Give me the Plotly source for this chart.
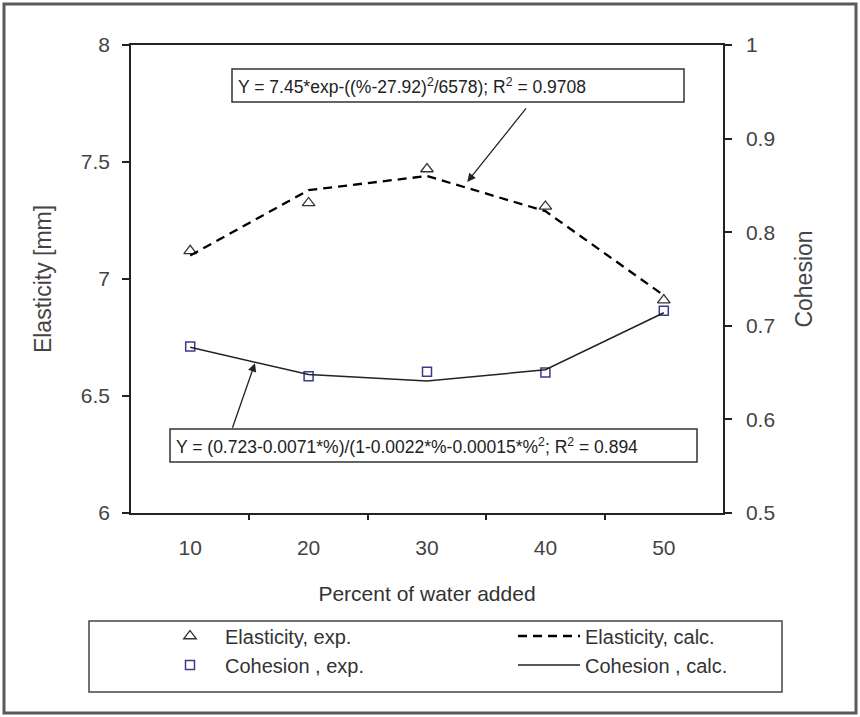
import plotly.graph_objects as go

water = [10, 20, 30, 40, 50]
elasticity_exp = [7.12, 7.325, 7.47, 7.31, 6.91]
elasticity_calc = [7.10, 7.38, 7.44, 7.29, 6.93]
cohesion_exp = [0.678, 0.646, 0.651, 0.650, 0.716]
cohesion_calc = [0.677, 0.648, 0.641, 0.653, 0.714]
x_ticks = [10, 20, 30, 40, 50]
x_minor = [15, 25, 35, 45]
y_left_ticks = [6, 6.5, 7, 7.5, 8]
y_right_ticks = [0.5, 0.6, 0.7, 0.8, 0.9, 1]

FONT = "Liberation Sans, Arial, sans-serif"
NAVY = "#3c3a8e"
W, H = 860, 717
L, R, T, B = 131, 137, 45, 204
PW, PH = W - L - R, H - T - B


def px(xp):
    return (xp - L) / PW


def py(yp):
    return (H - B - yp) / PH


fig = go.Figure()
fig.add_trace(go.Scatter(
    x=water, y=elasticity_exp, mode="markers", name="Elasticity, exp.",
    marker=dict(symbol="triangle-up-open", size=11, color="#333333", line=dict(width=1.3)),
    legend="legend", yaxis="y"))
fig.add_trace(go.Scatter(
    x=water, y=elasticity_calc, mode="lines", name="Elasticity, calc.",
    line=dict(color="black", width=2.3, dash="9px,6px"),
    legend="legend2", yaxis="y"))
fig.add_trace(go.Scatter(
    x=water, y=cohesion_exp, mode="markers", name="Cohesion , exp.",
    marker=dict(symbol="square-open", size=9, color=NAVY, line=dict(width=1.5)),
    legend="legend3", yaxis="y2"))
fig.add_trace(go.Scatter(
    x=water, y=cohesion_calc, mode="lines", name="Cohesion , calc.",
    line=dict(color="#222222", width=1.5),
    legend="legend4", yaxis="y2"))

legend_common = dict(font=dict(family=FONT, size=20, color="#333333"),
                     bgcolor="rgba(0,0,0,0)", borderwidth=0,
                     xanchor="left", yanchor="middle", orientation="v")
row1, row2 = py(636), py(665)
fig.update_layout(
    legend=dict(x=px(155), y=row1, itemwidth=60, **legend_common),
    legend2=dict(x=px(513), y=row1, itemwidth=62, **legend_common),
    legend3=dict(x=px(155), y=row2, itemwidth=60, **legend_common),
    legend4=dict(x=px(513), y=row2, itemwidth=62, **legend_common),
)

fig.update_layout(
    width=W, height=H,
    margin=dict(l=L, r=R, t=T, b=B),
    paper_bgcolor="white", plot_bgcolor="white",
    font=dict(family=FONT, color="#333333"),
    showlegend=True,
    xaxis=dict(
        range=[5, 55], tickvals=x_ticks, ticks="", showgrid=False, zeroline=False,
        showline=True, linecolor="#222222", linewidth=1.5, mirror=True,
        tickfont=dict(size=21, color="#444444"), ticklabelstandoff=15,
        minor=dict(tickvals=x_minor, ticks="outside", ticklen=5, tickcolor="#222222", tickwidth=1.5),
        title=dict(text="Percent of water added", font=dict(size=21, color="#333333"), standoff=28),
    ),
    yaxis=dict(
        range=[6, 8], tickvals=y_left_ticks, ticks="outside", ticklen=7, tickwidth=1.5,
        tickcolor="#222222", showgrid=False, zeroline=False,
        showline=True, linecolor="#222222", linewidth=1.5,
        tickfont=dict(size=21, color="#444444"), ticklabelstandoff=8,
        title=dict(text="Elasticity [mm]", font=dict(size=23, color="#444444"), standoff=23),
    ),
    yaxis2=dict(
        range=[0.5, 1], tickvals=y_right_ticks, tickformat="~g", overlaying="y", side="right",
        ticks="outside", ticklen=7, tickwidth=1.5, tickcolor="#222222",
        showgrid=False, zeroline=False, showline=True, linecolor="#222222", linewidth=1.5,
        tickfont=dict(size=21, color="#444444"), ticklabelstandoff=10,
        title=dict(text="Cohesion", font=dict(size=23, color="#444444"), standoff=22),
    ),
)

shapes = [
    # outer frame
    dict(type="rect", xref="paper", yref="paper", x0=px(4), x1=px(856), y0=py(713), y1=py(4),
         line=dict(color="#5a5a5a", width=3), layer="below"),
    # equation boxes
    dict(type="rect", xref="paper", yref="paper", x0=px(232), x1=px(684), y0=py(102), y1=py(69),
         line=dict(color="#333333", width=1.5), fillcolor="white"),
    dict(type="rect", xref="paper", yref="paper", x0=px(170), x1=px(697), y0=py(462), y1=py(429),
         line=dict(color="#333333", width=1.5), fillcolor="white"),
    # legend box
    dict(type="rect", xref="paper", yref="paper", x0=px(89), x1=px(782), y0=py(692), y1=py(621),
         line=dict(color="#444444", width=1.5)),
]
fig.update_layout(shapes=shapes)

annotations = [
    dict(text="Y = 7.45*exp-((%-27.92)<sup>2</sup>/6578); R<sup>2</sup> = 0.9708",
         xref="paper", yref="paper", x=px(236), y=py(85.5), xanchor="left", yanchor="middle",
         showarrow=False, font=dict(size=17.5, color="#222222")),
    dict(text="Y = (0.723-0.0071*%)/(1-0.0022*%-0.00015*%<sup>2</sup>; R<sup>2</sup> = 0.894",
         xref="paper", yref="paper", x=px(174), y=py(445.5), xanchor="left", yanchor="middle",
         showarrow=False, font=dict(size=17.5, color="#222222")),
    # arrows
    dict(text="", x=33.4, y=7.415, xref="x", yref="y", ax=60, ay=-75,
         showarrow=True, arrowhead=2, arrowsize=1.3, arrowwidth=1.3, arrowcolor="#222222"),
    dict(text="", x=15.47, y=0.660, xref="x", yref="y2", ax=-23, ay=66,
         showarrow=True, arrowhead=2, arrowsize=1.3, arrowwidth=1.3, arrowcolor="#222222"),
]
fig.update_layout(annotations=annotations)

fig.write_html("out.html")
